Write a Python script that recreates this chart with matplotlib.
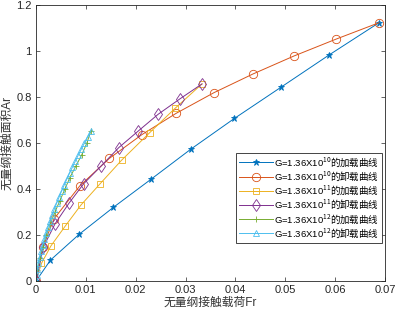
import numpy as np
import matplotlib
matplotlib.use('Agg')
import matplotlib.pyplot as plt

plt.rcParams['font.family'] = ['Liberation Sans', 'DejaVu Sans', 'Noto Sans CJK SC']
plt.rcParams['mathtext.fontset'] = 'custom'
plt.rcParams['mathtext.rm'] = 'Noto Sans CJK SC'
plt.rcParams['mathtext.it'] = 'Noto Sans CJK SC'
plt.rcParams['mathtext.bf'] = 'Noto Sans CJK SC'

# G=1.36e10 加载
x_load10 = [0, 0.0029, 0.0087, 0.0155, 0.0231, 0.0311, 0.0398, 0.0491, 0.0588, 0.0688]
y_load10 = [0, 0.091, 0.204, 0.320, 0.443, 0.574, 0.707, 0.842, 0.983, 1.123]
# G=1.36e10 卸载
x_unload10 = [0.0688, 0.0601, 0.0517, 0.0435, 0.0357, 0.0281, 0.0212, 0.0147, 0.0088, 0.0036, 0.0014, 0]
y_unload10 = [1.123, 1.051, 0.978, 0.900, 0.819, 0.729, 0.636, 0.533, 0.414, 0.270, 0.149, 0]
# G=1.36e11 加载
x_load11 = [0, 0.0011, 0.0030, 0.0059, 0.0090, 0.0129, 0.0172, 0.0228, 0.0279, 0.0333]
y_load11 = [0, 0.077, 0.153, 0.240, 0.330, 0.424, 0.526, 0.645, 0.751, 0.857]
# G=1.36e11 卸载
x_unload11 = [0.0333, 0.0288, 0.0245, 0.0205, 0.0166, 0.0131, 0.0096, 0.0066, 0.0038, 0.0015, 0]
y_unload11 = [0.857, 0.791, 0.725, 0.652, 0.580, 0.501, 0.424, 0.338, 0.248, 0.149, 0]
# G=1.36e12 加载
x_load12 = [0, 0.00026, 0.00074, 0.00135, 0.0021, 0.0029, 0.0038, 0.0048, 0.0058, 0.0068,
            0.0080, 0.0092, 0.0102, 0.0110]
y_load12 = [0, 0.05, 0.10, 0.15, 0.20, 0.25, 0.30, 0.35, 0.40, 0.45,
            0.50, 0.55, 0.60, 0.652]
# G=1.36e12 卸载
x_unload12 = [0.0110, 0.01035, 0.00972, 0.00910, 0.00849, 0.00790, 0.00732, 0.00676, 0.00620,
              0.00567, 0.00515, 0.00465, 0.00417, 0.00370, 0.00326, 0.00283, 0.00242, 0.00203,
              0.00167, 0.00133, 0.00102, 0.00073, 0.00048, 0.00027, 0.00010, 0]
y_unload12 = [0.652, 0.626, 0.600, 0.574, 0.548, 0.522, 0.496, 0.470, 0.444,
              0.418, 0.392, 0.366, 0.340, 0.314, 0.288, 0.262, 0.236, 0.210,
              0.184, 0.158, 0.132, 0.106, 0.080, 0.054, 0.028, 0]

labels = ['G=1.36X10$^{10}\\mathrm{的加载曲线}$', 'G=1.36X10$^{10}\\mathrm{的卸载曲线}$',
          'G=1.36X10$^{11}\\mathrm{的加载曲线}$', 'G=1.36X10$^{11}\\mathrm{的卸载曲线}$',
          'G=1.36X10$^{12}\\mathrm{的加载曲线}$', 'G=1.36X10$^{12}\\mathrm{的卸载曲线}$']

fig = plt.figure(figsize=(3.97, 3.14), dpi=100)
ax = fig.add_axes([0.0907, 0.105, 0.879, 0.879])

lw = 0.7
ms = 5
ax.plot(x_load10, y_load10, '-*', color='#0072BD', lw=lw, ms=ms, mew=0.6, label=labels[0])
ax.plot(x_unload10, y_unload10, '-o', color='#D95319', lw=lw, ms=ms + 1, mfc='none', mew=0.6, label=labels[1])
ax.plot(x_load11, y_load11, '-s', color='#EDB120', lw=lw, ms=ms, mfc='none', mew=0.6, label=labels[2])
ax.plot(x_unload11, y_unload11, '-d', color='#7E2F8E', lw=lw, ms=ms + 1, mfc='none', mew=0.6, label=labels[3])
ax.plot(x_load12, y_load12, '-+', color='#77AC30', lw=lw, ms=ms, mew=0.6, label=labels[4])
ax.plot(x_unload12, y_unload12, '-^', color='#4DBEEE', lw=lw, ms=ms, mfc='none', mew=0.6, label=labels[5])

ax.set_xlim(0, 0.07)
ax.set_ylim(0, 1.2)
ax.set_xticks(np.arange(0, 0.071, 0.01))
ax.set_xticklabels(['0', '0.01', '0.02', '0.03', '0.04', '0.05', '0.06', '0.07'])
ax.set_yticks(np.arange(0, 1.21, 0.2))
ax.set_yticklabels(['0', '0.2', '0.4', '0.6', '0.8', '1', '1.2'])
ax.tick_params(direction='in', top=True, right=True, labelsize=8, length=3,
               width=0.5, colors='#262626', pad=3)
for s in ax.spines.values():
    s.set_linewidth(0.6)
    s.set_color('#262626')

ax.set_xlabel('无量纲接触载荷Fr', fontsize=8.5, labelpad=1, color='#333333')
ax.set_ylabel('无量纲接触面积Ar', fontsize=8.5, labelpad=2, color='#333333')

leg = ax.legend(loc='upper right', bbox_to_anchor=(0.992, 0.465), fontsize=6.8,
                handlelength=3.6, handletextpad=0.2, labelspacing=0.1,
                borderpad=0.3, borderaxespad=0, fancybox=False,
                edgecolor='#262626', framealpha=1)
leg.get_frame().set_linewidth(0.6)

fig.savefig('out.png', dpi=100)
